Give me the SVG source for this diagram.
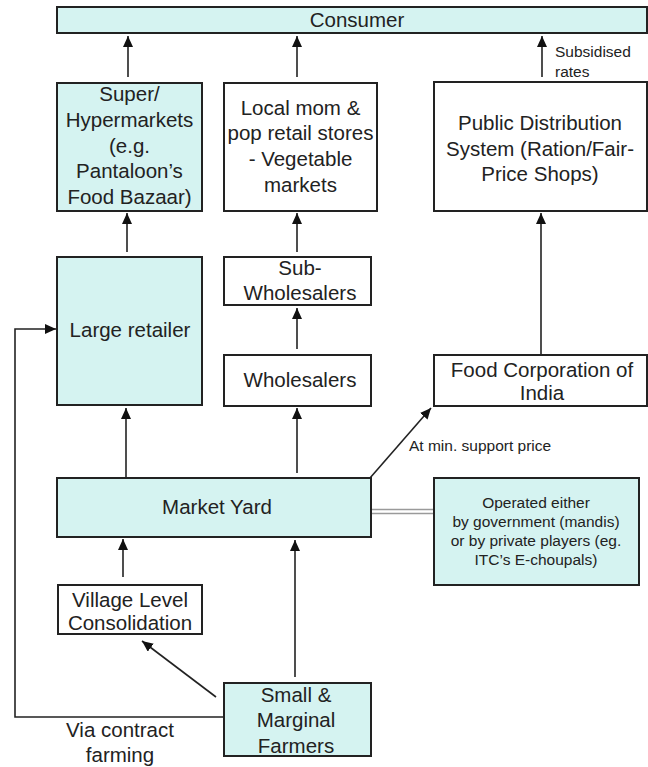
<svg xmlns="http://www.w3.org/2000/svg" width="648" height="767" viewBox="0 0 648 767">
  <style>
    .box { stroke: #222; stroke-width: 2; fill: #fff; }
    .cyan { fill: #d5f3f1; }
    .t { font-family: "Liberation Sans", Arial, sans-serif; font-size: 20.5px; fill: #222; text-anchor: middle; }
    .s { font-family: "Liberation Sans", Arial, sans-serif; font-size: 15.5px; fill: #222; }
    .c { text-anchor: middle; }
    .edge { stroke: #222; stroke-width: 1.6; fill: none; }
    .arr { marker-end: url(#head); }
    .dbl { stroke: #9a9a9a; stroke-width: 1.3; fill: none; }
  </style>
  <defs>
    <marker id="head" markerUnits="userSpaceOnUse" markerWidth="12" markerHeight="10" refX="11" refY="5" orient="auto">
      <path d="M0,0 L11,5 L0,10 z" fill="#111"/>
    </marker>
  </defs>

  <rect width="648" height="767" fill="#fff"/>

  <g id="consumer">
    <rect class="box cyan" x="57" y="7" width="590" height="26"/>
    <text class="t" x="357" y="27">Consumer</text>
  </g>

  <g id="supermarkets">
    <rect class="box cyan" x="57" y="83" width="145" height="128"/>
    <text class="t" x="129.5" y="101">Super/</text>
    <text class="t" x="129.5" y="127">Hypermarkets</text>
    <text class="t" x="129.5" y="153">(e.g.</text>
    <text class="t" x="129.5" y="178">Pantaloon’s</text>
    <text class="t" x="129.5" y="204">Food Bazaar)</text>
  </g>

  <g id="local-stores">
    <rect class="box" x="224" y="83" width="153" height="128"/>
    <text class="t" x="300.5" y="115">Local mom &amp;</text>
    <text class="t" x="300.5" y="140">pop retail stores</text>
    <text class="t" x="300.5" y="166">- Vegetable</text>
    <text class="t" x="300.5" y="192">markets</text>
  </g>

  <g id="pds">
    <rect class="box" x="434" y="82" width="213" height="129"/>
    <text class="t" x="540" y="130">Public Distribution</text>
    <text class="t" x="540" y="156">System (Ration/Fair-</text>
    <text class="t" x="540" y="181">Price Shops)</text>
  </g>

  <g id="large-retailer">
    <rect class="box cyan" x="57" y="257" width="145" height="148"/>
    <text class="t" x="130" y="337">Large retailer</text>
  </g>

  <g id="sub-wholesalers">
    <rect class="box" x="224" y="257" width="147" height="48"/>
    <text class="t" x="300" y="275">Sub-</text>
    <text class="t" x="300" y="300">Wholesalers</text>
  </g>

  <g id="wholesalers">
    <rect class="box" x="224" y="355" width="147" height="51"/>
    <text class="t" x="300" y="387">Wholesalers</text>
  </g>

  <g id="fci">
    <rect class="box" x="434" y="355" width="213" height="51"/>
    <text class="t" x="542" y="377">Food Corporation of</text>
    <text class="t" x="542" y="400">India</text>
  </g>

  <g id="market-yard">
    <rect class="box cyan" x="57" y="478" width="314" height="59"/>
    <text class="t" x="217" y="514">Market Yard</text>
  </g>

  <g id="operator-note">
    <rect class="box cyan" x="434" y="478" width="205" height="107"/>
    <text class="s c" x="536" y="508">Operated either</text>
    <text class="s c" x="536" y="527">by government (mandis)</text>
    <text class="s c" x="536" y="546">or by private players (eg.</text>
    <text class="s c" x="536" y="565">ITC’s E-choupals)</text>
  </g>

  <g id="village">
    <rect class="box" x="58" y="585" width="144" height="49"/>
    <text class="t" x="130" y="607">Village Level</text>
    <text class="t" x="130" y="630">Consolidation</text>
  </g>

  <g id="farmers">
    <rect class="box cyan" x="224" y="683" width="147" height="73"/>
    <text class="t" x="296" y="702">Small &amp;</text>
    <text class="t" x="296" y="727">Marginal</text>
    <text class="t" x="296" y="753">Farmers</text>
  </g>

  <g id="connectors">
    <line class="edge arr" x1="128" y1="77" x2="128" y2="36"/>
    <line class="edge arr" x1="297" y1="77" x2="297" y2="36"/>
    <line class="edge arr" x1="542" y1="77" x2="542" y2="36"/>
    <line class="edge arr" x1="127" y1="252" x2="127" y2="213"/>
    <line class="edge arr" x1="297" y1="252" x2="297" y2="213"/>
    <line class="edge arr" x1="541" y1="354" x2="541" y2="213"/>
    <line class="edge arr" x1="297" y1="349" x2="297" y2="308"/>
    <line class="edge arr" x1="126" y1="477" x2="126" y2="408"/>
    <line class="edge arr" x1="297" y1="473" x2="297" y2="408"/>
    <line class="edge arr" x1="370" y1="478" x2="431" y2="408"/>
    <line class="edge arr" x1="123" y1="577" x2="123" y2="539"/>
    <line class="edge arr" x1="295" y1="677" x2="295" y2="540"/>
    <line class="edge arr" x1="216" y1="697" x2="142" y2="641"/>
    <polyline class="edge arr" points="224,717 15,717 15,329 56,329"/>
    <line class="dbl" x1="372" y1="509.5" x2="433" y2="509.5"/>
    <line class="dbl" x1="372" y1="513.5" x2="433" y2="513.5"/>
    <text class="s" x="555" y="57">Subsidised</text>
    <text class="s" x="555" y="77">rates</text>
    <text class="s" x="409" y="451">At min. support price</text>
    <text class="t" x="120" y="737">Via contract</text>
    <text class="t" x="120" y="762">farming</text>
  </g>
</svg>
